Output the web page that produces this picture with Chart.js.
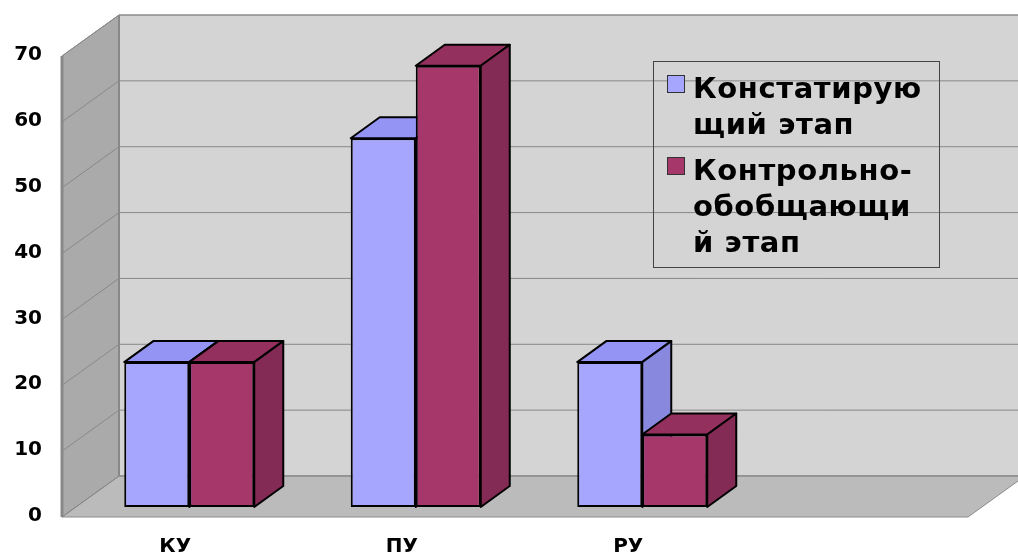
<!DOCTYPE html>
<html>
<head>
<meta charset="utf-8">
<script src="https://cdn.jsdelivr.net/npm/chart.js@4.4.0/dist/chart.umd.min.js"></script>
<style>
  html, body { margin: 0; padding: 0; background: #fff; }
</style>
</head>
<body>
<canvas id="chart" width="1018" height="556"></canvas>
<script>
// data
const categories = ['КУ', 'ПУ', 'РУ', ''];
const seriesNames = ['Констатирующий этап', 'Контрольно-обобщающий этап'];
const stage1 = [22, 56, 22, null];
const stage2 = [22, 67, 11, null];
const legendLines = [['Констатирую', 'щий этап'], ['Контрольно-', 'обобщающи', 'й этап']];

const frontColors = ['#a6a6ff', '#a6376b'];
const topColors = ['#9494f4', '#93305e'];
const sideColors = ['#8888de', '#842b55'];

// oblique offsets relative to the bar front plane (= chart area)
const FRONT = { dx: -14, dy: 10 };
const BACK = { dx: 43, dy: -31 };
const DEPTH = { dx: 29, dy: -21 };

function poly(ctx, pts, fill, stroke, lw) {
    ctx.beginPath();
    ctx.moveTo(pts[0][0], pts[0][1]);
    for (let i = 1; i < pts.length; i++) ctx.lineTo(pts[i][0], pts[i][1]);
    ctx.closePath();
    if (fill) { ctx.fillStyle = fill; ctx.fill(); }
    if (stroke) { ctx.strokeStyle = stroke; ctx.lineWidth = lw || 1; ctx.stroke(); }
}

const box3d = {
    id: 'box3d',
    beforeDatasetsDraw(chart) {
        const ctx = chart.ctx;
        const a = chart.chartArea;
        const ys = chart.scales.y;
        const l = a.left, r = a.right, t = a.top, b = a.bottom;
        ctx.save();
        // back wall
        poly(ctx, [[l + BACK.dx, t + BACK.dy], [chart.width + 10, t + BACK.dy],
                   [chart.width + 10, b + BACK.dy], [l + BACK.dx, b + BACK.dy]], '#d4d4d4', '#8c8c8c', 1);
        // left wall
        poly(ctx, [[l + FRONT.dx, t + FRONT.dy], [l + BACK.dx, t + BACK.dy],
                   [l + BACK.dx, b + BACK.dy], [l + FRONT.dx, b + FRONT.dy]], '#aaaaaa', '#8c8c8c', 1);
        // floor
        poly(ctx, [[l + FRONT.dx, b + FRONT.dy], [l + BACK.dx, b + BACK.dy],
                   [r + BACK.dx, b + BACK.dy], [r + FRONT.dx, b + FRONT.dy]], '#bbbbbb', '#8c8c8c', 1);
        // grid lines on the walls
        ctx.strokeStyle = '#888888';
        ctx.lineWidth = 1;
        ys.ticks.forEach(tk => {
            const py = ys.getPixelForValue(tk.value);
            ctx.beginPath();
            ctx.moveTo(l + FRONT.dx, py + FRONT.dy);
            ctx.lineTo(l + BACK.dx, py + BACK.dy);
            ctx.lineTo(chart.width + 10, py + BACK.dy);
            ctx.stroke();
        });
        // wall edges
        ctx.strokeStyle = '#888';
        ctx.lineWidth = 3;
        ctx.beginPath();
        ctx.moveTo(l + FRONT.dx, t + FRONT.dy);
        ctx.lineTo(l + FRONT.dx, b + FRONT.dy);
        ctx.stroke();
        ctx.lineWidth = 2;
        ctx.beginPath();
        ctx.moveTo(l + BACK.dx, t + BACK.dy);
        ctx.lineTo(l + BACK.dx, b + BACK.dy);
        ctx.stroke();

        // top and side faces of the bars, category by category
        ctx.lineWidth = 2;
        ctx.lineJoin = 'round';
        for (let j = 0; j < categories.length; j++) {
            chart.data.datasets.forEach((ds, i) => {
                if (ds.data[j] == null) return;
                const bar = chart.getDatasetMeta(i).data[j];
                const p = bar.getProps(['x', 'y', 'base', 'width'], true);
                const x0 = p.x - p.width / 2, x1 = p.x + p.width / 2;
                poly(ctx, [[x0, p.y], [x0 + DEPTH.dx, p.y + DEPTH.dy],
                           [x1 + DEPTH.dx, p.y + DEPTH.dy], [x1, p.y]], topColors[i], '#000', 2);
                poly(ctx, [[x1, p.y], [x1 + DEPTH.dx, p.y + DEPTH.dy],
                           [x1 + DEPTH.dx, p.base + DEPTH.dy], [x1, p.base]], sideColors[i], '#000', 2);
            });
        }
        ctx.restore();
    },
    afterDraw(chart) {
        const ctx = chart.ctx;
        ctx.save();
        ctx.strokeStyle = '#444';
        ctx.lineWidth = 1;
        ctx.strokeRect(653.5, 61.5, 286, 206);
        ctx.font = 'bold 29px "DejaVu Sans"';
        ctx.letterSpacing = '0.6px';
        ctx.fillStyle = '#000';
        ctx.textBaseline = 'alphabetic';
        const starts = [98, 180];
        legendLines.forEach((lines, i) => {
            ctx.fillStyle = frontColors[i];
            ctx.fillRect(667, starts[i] - 23, 17, 17);
            ctx.strokeStyle = '#333';
            ctx.strokeRect(667.5, starts[i] - 22.5, 17, 17);
            ctx.fillStyle = '#000';
            lines.forEach((s, k) => ctx.fillText(s, 693, starts[i] + k * 36));
        });
        ctx.restore();
    }
};

const tickFont = { family: 'DejaVu Sans', size: 20, weight: 'bold' };

new Chart(document.getElementById('chart').getContext('2d'), {
    type: 'bar',
    data: {
        labels: categories,
        datasets: [{
            label: seriesNames[0],
            data: stage1,
            backgroundColor: frontColors[0],
            borderColor: '#000',
            borderWidth: 2,
            borderSkipped: false
        }, {
            label: seriesNames[1],
            data: stage2,
            backgroundColor: frontColors[1],
            borderColor: '#000',
            borderWidth: 2,
            borderSkipped: false
        }]
    },
    options: {
        responsive: false,
        animation: false,
        devicePixelRatio: 1,
        categoryPercentage: 0.574,
        barPercentage: 1,
        layout: { padding: { top: 43, right: 36, left: 0, bottom: 0 } },
        plugins: { legend: { display: false }, tooltip: { enabled: false } },
        scales: {
            x: {
                grid: { display: false, drawTicks: false },
                border: { display: false },
                ticks: { font: tickFont, color: '#000', padding: 28, labelOffset: -14, maxRotation: 0 },
                afterFit(s) { s.height = 49; }
            },
            y: {
                min: 0,
                max: 70,
                grid: { display: false, drawTicks: false },
                border: { display: false },
                ticks: { stepSize: 10, font: tickFont, color: '#000', padding: 34, labelOffset: 9 },
                afterFit(s) { s.width = 76; }
            }
        }
    },
    plugins: [box3d]
});
</script>
</body>
</html>
